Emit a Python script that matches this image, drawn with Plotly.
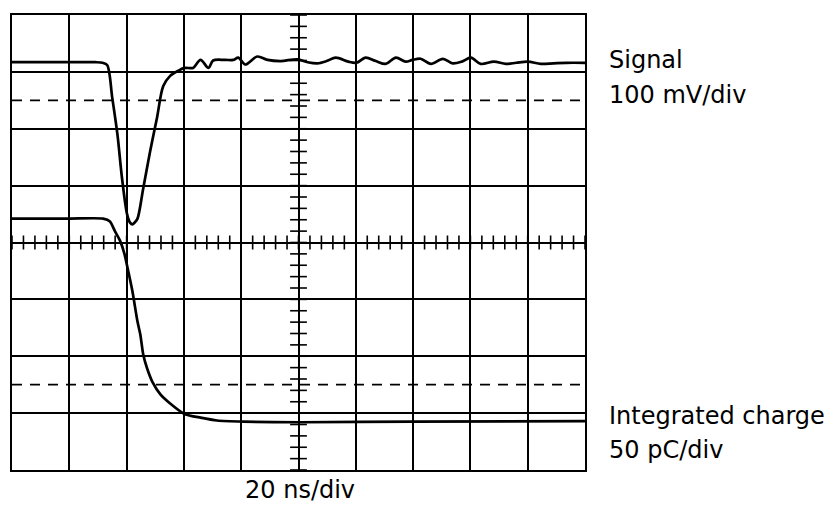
import plotly.graph_objects as go

# ---- data (values in screen divisions) ----
signal_t = [0.0, 1.0, 1.45, 1.58, 1.66, 1.75, 1.84, 1.92, 2.01, 2.06, 2.10, 2.14, 2.19, 2.29,
            2.41, 2.53, 2.64, 2.76, 2.90, 3.01, 3.16, 3.29, 3.43, 3.51, 3.72, 3.86, 3.95,
            4.07, 4.28, 4.46, 4.69, 4.98, 5.16, 5.33, 5.49, 5.65, 5.87, 6.01, 6.17, 6.35,
            6.52, 6.70, 6.87, 6.99, 7.13, 7.31, 7.52, 7.69, 7.85, 8.01, 8.18, 8.41, 8.62,
            8.80, 9.00, 9.23, 9.45, 9.67, 10.0]
signal_v = [3.17, 3.17, 3.17, 3.16, 3.12, 2.54, 1.90, 1.13, 0.49, 0.35, 0.32, 0.35, 0.42, 0.95,
            1.60, 2.19, 2.75, 2.93, 3.02, 3.07, 3.07, 3.21, 3.07, 3.20, 3.21, 3.21, 3.25,
            3.13, 3.27, 3.21, 3.19, 3.22, 3.17, 3.15, 3.19, 3.25, 3.18, 3.16, 3.25, 3.19,
            3.14, 3.25, 3.18, 3.21, 3.23, 3.14, 3.23, 3.15, 3.18, 3.25, 3.14, 3.18, 3.14,
            3.16, 3.18, 3.14, 3.15, 3.16, 3.16]

charge_t = [0.0, 1.0, 1.59, 1.71, 1.80, 1.89, 1.96, 2.03, 2.10, 2.19, 2.24, 2.29, 2.36, 2.45,
            2.59, 2.76, 3.02, 3.29, 3.58, 4.04, 5.03, 7.0, 10.0]
charge_v = [0.42, 0.42, 0.42, 0.37, 0.19, 0.02, -0.19, -0.51, -0.85, -1.39, -1.62, -1.97, -2.22,
            -2.45, -2.67, -2.83, -3.02, -3.08, -3.13, -3.15, -3.16, -3.15, -3.14]

dashed_levels = [2.5, -2.5]
signal_label = ["Signal", "100 mV/div"]
charge_label = ["Integrated charge", "50 pC/div"]
time_label = "20 ns/div"

# graticule minor ticks (every 0.2 div along the centre lines)
minor_x = [i / 5 for i in range(0, 51)]
minor_y = [i / 5 - 4 for i in range(0, 41)]

FONT = "DejaVu Sans, Liberation Sans, Arial, sans-serif"
FS = 24

fig = go.Figure()

fig.add_trace(go.Scatter(
    x=minor_x, y=[0] * len(minor_x), mode="markers", hoverinfo="skip",
    marker=dict(symbol="line-ns", size=10, color="black", line=dict(color="black", width=1.6))))
fig.add_trace(go.Scatter(
    x=[5] * len(minor_y), y=minor_y, mode="markers", hoverinfo="skip",
    marker=dict(symbol="line-ew", size=12, color="black", line=dict(color="black", width=1.6))))

fig.add_trace(go.Scatter(x=signal_t, y=signal_v, mode="lines",
                         line=dict(color="black", width=2.7, shape="spline", smoothing=0.9)))
fig.add_trace(go.Scatter(x=charge_t, y=charge_v, mode="lines",
                         line=dict(color="black", width=2.7, shape="spline", smoothing=0.6)))

for lv in dashed_levels:
    fig.add_shape(type="line", xref="x", yref="y", x0=0, x1=10, y0=lv, y1=lv,
                  line=dict(color="black", width=1.8, dash="10px,8px"))

axis_common = dict(showgrid=True, gridcolor="black", gridwidth=1.5, dtick=1,
                   showline=True, linecolor="black", linewidth=1.8, mirror=True,
                   showticklabels=False, ticks="", fixedrange=True)

# page body has an 8px margin: figure is sized so the plot area lands where the reference has it
fig.update_layout(
    width=830, height=498,
    margin=dict(l=4, r=253, t=7, b=36),
    paper_bgcolor="white", plot_bgcolor="white",
    showlegend=False,
    xaxis=dict(range=[0, 10], zeroline=False, **axis_common),
    yaxis=dict(range=[-4, 4], zeroline=True, zerolinecolor="black", zerolinewidth=2.2,
               **axis_common),
    font=dict(family=FONT, color="black"),
)

def label(text, x, y, xanchor="left"):
    fig.add_annotation(xref="paper", yref="paper", x=x, y=y, xanchor=xanchor, yanchor="middle",
                       text=text, showarrow=False, font=dict(size=FS, family=FONT, color="black"))

label(signal_label[0], 1.039, 0.902)
label(signal_label[1], 1.039, 0.825)
label(charge_label[0], 1.039, 0.119)
label(charge_label[1], 1.039, 0.045)
label(time_label, 0.503, -0.045, xanchor="center")

fig.write_html("out.html")
